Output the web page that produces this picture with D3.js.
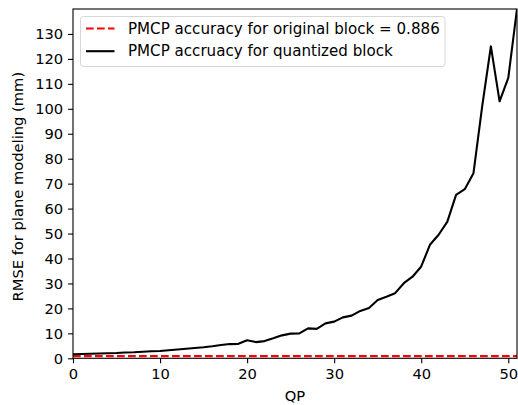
<!DOCTYPE html>
<html>
<head>
<meta charset="utf-8">
<script src="https://cdn.jsdelivr.net/npm/d3@7"></script>
<style>
  html, body { margin: 0; padding: 0; background: #fff; }
  svg { display: block; font-family: "DejaVu Sans", sans-serif; }
</style>
</head>
<body>
<svg id="chart" width="518" height="405"></svg>
<script>
// QP values 0..51
const qp = d3.range(0, 52);
// RMSE (mm) of plane modeling with the quantized block, one value per QP
const rmseQuantized = [
  1.6, 1.7, 1.8, 1.9, 2.0, 2.1, 2.3, 2.4, 2.6, 2.8,
  2.9, 3.2, 3.5, 3.8, 4.1, 4.4, 4.8, 5.3, 5.7, 5.8,
  7.2, 6.5, 6.9, 8.0, 9.2, 9.9, 10.0, 12.0, 11.8, 14.0,
  14.7, 16.4, 17.1, 19.0, 20.2, 23.4, 24.7, 26.1, 30.1, 32.7,
  36.8, 45.5, 49.5, 54.8, 65.5, 67.8, 74.2, 101.0, 125.0, 103.0,
  112.4, 140.0
];
// RMSE of the original block (constant reference)
const rmseOriginal = 0.886;
const xTicks = [0, 10, 20, 30, 40, 50];
const yTicks = d3.range(0, 131, 10);
const legendLabels = [
  "PMCP accuracy for original block = 0.886",
  "PMCP accruacy for quantized block"
];

const fontSize = "14.7px";
const legendFontSize = "15.1px";

const svg = d3.select("#chart");
const plot = { left: 73, top: 9, right: 517, bottom: 358.3 };

const x = d3.scaleLinear().domain([0, 51]).range([plot.left, plot.right]);
const y = d3.scaleLinear().domain([0, 140]).range([plot.bottom, plot.top]);

svg.append("defs").append("clipPath").attr("id", "plotClip")
  .append("rect")
  .attr("x", plot.left).attr("y", plot.top)
  .attr("width", plot.right - plot.left).attr("height", plot.bottom - plot.top);

const lines = svg.append("g").attr("clip-path", "url(#plotClip)");

// Reference line for the original block
lines.append("line")
  .attr("x1", x(0)).attr("x2", x(51))
  .attr("y1", y(rmseOriginal)).attr("y2", y(rmseOriginal))
  .attr("stroke", "red").attr("stroke-width", 2.1)
  .attr("stroke-dasharray", "7.7,3.3");

// Quantized block curve
lines.append("path")
  .datum(qp.map((q, i) => [q, rmseQuantized[i]]))
  .attr("fill", "none")
  .attr("stroke", "black")
  .attr("stroke-width", 2.1)
  .attr("stroke-linejoin", "round")
  .attr("d", d3.line().x(d => x(d[0])).y(d => y(d[1])));

// Axes
const xAxis = svg.append("g")
  .attr("transform", `translate(0,${plot.bottom})`)
  .call(d3.axisBottom(x).tickValues(xTicks).tickSize(4.9).tickPadding(4.9).tickFormat(d3.format("d")));
const yAxis = svg.append("g")
  .attr("transform", `translate(${plot.left},0)`)
  .call(d3.axisLeft(y).tickValues(yTicks).tickSize(4.9).tickPadding(4.9).tickFormat(d3.format("d")));

[xAxis, yAxis].forEach(g => {
  g.select(".domain").remove();
  g.selectAll(".tick line").attr("stroke", "black").attr("stroke-width", 1.1);
  g.selectAll(".tick text")
    .attr("fill", "black")
    .style("font-size", fontSize)
    .style("font-family", "DejaVu Sans, sans-serif");
});

// Frame around the plot area
svg.append("rect")
  .attr("x", plot.left).attr("y", plot.top)
  .attr("width", plot.right - plot.left).attr("height", plot.bottom - plot.top)
  .attr("fill", "none").attr("stroke", "black").attr("stroke-width", 1.1);

// Axis titles
svg.append("text")
  .attr("x", (plot.left + plot.right) / 2).attr("y", 400.5)
  .attr("text-anchor", "middle")
  .style("font-size", fontSize)
  .text("QP");

svg.append("text")
  .attr("transform", `translate(23,${(plot.top + plot.bottom) / 2 + 3}) rotate(-90)`)
  .attr("text-anchor", "middle")
  .style("font-size", fontSize)
  .text("RMSE for plane modeling (mm)");

// Legend
const legend = svg.append("g");
legend.append("rect")
  .attr("x", 80.5).attr("y", 16.5)
  .attr("width", 364.5).attr("height", 50)
  .attr("rx", 3).attr("ry", 3)
  .attr("fill", "white").attr("fill-opacity", 0.8)
  .attr("stroke", "#d6d6d6").attr("stroke-width", 1);

const legendRows = [
  { color: "red", dash: "7.7,3.3" },
  { color: "black", dash: null }
];
legendRows.forEach((r, i) => {
  const cy = 28.5 + i * 22.7;
  legend.append("line")
    .attr("x1", 86).attr("x2", 114.5)
    .attr("y1", cy).attr("y2", cy)
    .attr("stroke", r.color).attr("stroke-width", 2.1)
    .attr("stroke-dasharray", r.dash);
  legend.append("text")
    .attr("x", 128).attr("y", cy)
    .attr("dy", "0.35em")
    .style("font-size", legendFontSize)
    .text(legendLabels[i]);
});
</script>
</body>
</html>
